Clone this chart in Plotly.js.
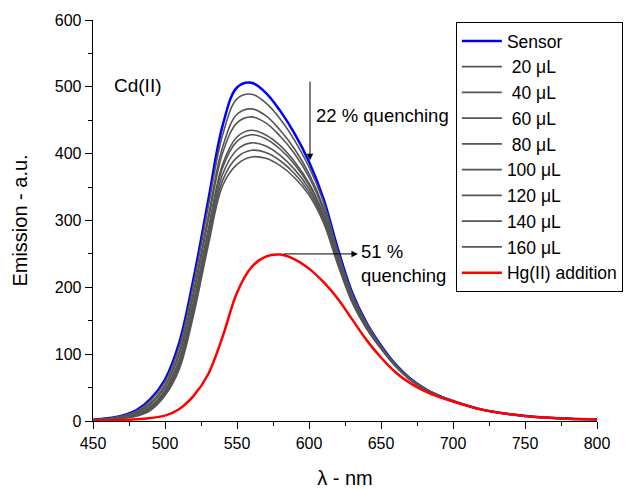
<!DOCTYPE html>
<html>
<head>
<meta charset="utf-8">
<script src="https://cdn.plot.ly/plotly-3.0.1.min.js"></script>
<style>html,body{margin:0;padding:0;background:#fff;}#chart{width:631px;height:489px;}</style>
</head>
<body>
<div id="chart"></div>
<script>
// wavelength grid (nm)
var wavelength = [450,460,470,480,490,500,510,520,530,540,550,560,570,580,590,600,610,620,630,640,650,660,670,680,690,700,720,740,760,780,800];

// emission values
var sensor  = [2,4,8,16,33,62,118,215,330,442,499,506,491,464,430,388,333,258,192,147,113,85,64,49,38,30,17,10,5.5,3.5,2.5];
var add20   = [1.9,3.7,7.4,14.6,30.4,58.4,112,207,320,428,482,489,476,452,420,380,328,254,190,146,112,84.5,63.7,48.9,38,30,17,10,5.5,3.5,2.5];
var add40   = [1.7,3.3,6.6,12.9,27,53.6,104,196,306,410,459,467,457,435,407,370,320,250,187,144,111,84,63.3,48.6,38,30,17,10,5.5,3.5,2.5];
var add60   = [1.5,3.1,6.2,11.9,25.2,51,100,190,299,401,446,455,446,426,400,365,316,247,185,143,110.7,83.6,63.1,48.5,38,30,17,10,5.5,3.5,2.5];
var add80   = [1.4,2.7,5.4,10.2,22.1,46.6,92.4,180,286,384,425,435,428,412,388,356,310,243,182.4,141.2,109.8,83.1,62.7,48.4,38,30,17,10,5.5,3.5,2.5];
var add100  = [1.3,2.6,5.2,9.7,21.1,45.2,90,176.5,282.4,379,418.5,428.3,422.4,406.6,383.8,353,307.8,241.2,181.5,140.7,109.5,82.9,62.6,48.3,38,30,17,10,5.5,3.5,2.5];
var add120  = [1.2,2.4,4.8,8.7,19.2,42.6,85.6,170.5,274.9,369.1,405.9,416.1,411.6,397.6,376.5,347.5,303.8,238.6,179.9,139.7,109,82.6,62.4,48.2,38,30,17,10,5.5,3.5,2.5];
var add140  = [1.1,2.2,4.4,7.8,17.5,40.2,81.6,165,268.1,360.1,394.4,405,401.8,389.4,369.9,342.5,300.2,236.2,178.4,138.8,108.5,82.3,62.2,48.1,38,30,17,10,5.5,3.5,2.5];
var add160  = [1,2,4,7,16,38,78,160,262,352,384,395,393,382,364,338,297,234,177,138,108,82,62,48,38,30,17,10,5.5,3.5,2.5];
var hgAdd   = [0.5,1,1.5,2.5,4.5,8,18,38,70,126,192,230,246,249,242,228,208,183,152,121,95,73,57,45,36,29,17,10,5.5,3.5,2.5];

var seriesNames = ['Sensor','\u00a020 \u03bcL','\u00a040 \u03bcL','\u00a060 \u03bcL','\u00a080 \u03bcL','100 \u03bcL','120 \u03bcL','140 \u03bcL','160 \u03bcL','Hg(II) addition'];
var seriesData  = [sensor,add20,add40,add60,add80,add100,add120,add140,add160,hgAdd];

var xTickVals = [450,500,550,600,650,700,750,800];
var yTickVals = [0,100,200,300,400,500,600];

var FONT = 'Arial, "Liberation Sans", sans-serif';
var traces = seriesData.map(function(vals, i){
  var color = '#555555', width = 1.6;
  if (i === 0) { color = '#0000ff'; width = 2.5; }
  if (i === seriesData.length - 1) { color = '#ff0000'; width = 2.5; }
  return {
    x: wavelength, y: vals, name: seriesNames[i], type: 'scatter', mode: 'lines',
    line: {color: color, width: width, shape: 'spline', smoothing: 1}
  };
});

var layout = {
  width: 631, height: 489,
  margin: {l: 93, r: 34, t: 20, b: 68, autoexpand: false},
  paper_bgcolor: '#fff', plot_bgcolor: '#fff',
  font: {family: FONT, color: '#000', size: 16},
  showlegend: true,
  legend: {
    x: 0.72, y: 0.995, xanchor: 'left', yanchor: 'top',
    bgcolor: '#fff', bordercolor: '#000', borderwidth: 1,
    font: {family: FONT, size: 17.5, color: '#000'},
    itemwidth: 40, tracegroupgap: 0, maxheight: 420
  },
  xaxis: {
    range: [450, 800], tickvals: xTickVals, ticks: 'outside', ticklen: 7, tickwidth: 1, tickcolor: '#000',
    showline: true, linecolor: '#000', linewidth: 1.3, showgrid: false, zeroline: false,
    minor: {dtick: 25, ticks: 'outside', ticklen: 4, tickwidth: 1, tickcolor: '#000', showgrid: false},
    tickfont: {family: FONT, size: 16},
    title: {text: '\u03bb - nm', font: {family: FONT, size: 20}, standoff: 22}
  },
  yaxis: {
    range: [0, 600], tickvals: yTickVals, ticks: 'outside', ticklen: 7, tickwidth: 1, tickcolor: '#000',
    showline: true, linecolor: '#000', linewidth: 1.3, showgrid: false, zeroline: false,
    minor: {dtick: 50, ticks: 'outside', ticklen: 4, tickwidth: 1, tickcolor: '#000', showgrid: false},
    tickfont: {family: FONT, size: 16},
    title: {text: 'Emission - a.u.', font: {family: FONT, size: 20}, standoff: 21}
  },
  annotations: [
    {x: 463, y: 502, xref: 'x', yref: 'y', text: 'Cd(II)', showarrow: false, xanchor: 'left', yanchor: 'middle',
     font: {family: FONT, size: 19}},
    {x: 600.7, y: 390, ax: 600.7, ay: 510, xref: 'x', yref: 'y', axref: 'x', ayref: 'y', text: '',
     showarrow: true, arrowhead: 2, arrowsize: 1.3, arrowwidth: 1, arrowcolor: '#000'},
    {x: 603.5, y: 457, xref: 'x', yref: 'y', text: '22 % quenching', showarrow: false, xanchor: 'left', yanchor: 'middle',
     font: {family: FONT, size: 18.5}},
    {x: 634, y: 250, ax: 581.7, ay: 250, xref: 'x', yref: 'y', axref: 'x', ayref: 'y', text: '',
     showarrow: true, arrowhead: 2, arrowsize: 1.3, arrowwidth: 1, arrowcolor: '#000'},
    {x: 634.5, y: 235, xref: 'x', yref: 'y', text: '51 %<br>quenching', showarrow: false, xanchor: 'left', yanchor: 'middle',
     align: 'left', font: {family: FONT, size: 18.5}}
  ]
};

Plotly.newPlot('chart', traces, layout, {staticPlot: true, displayModeBar: false});
</script>
</body>
</html>
